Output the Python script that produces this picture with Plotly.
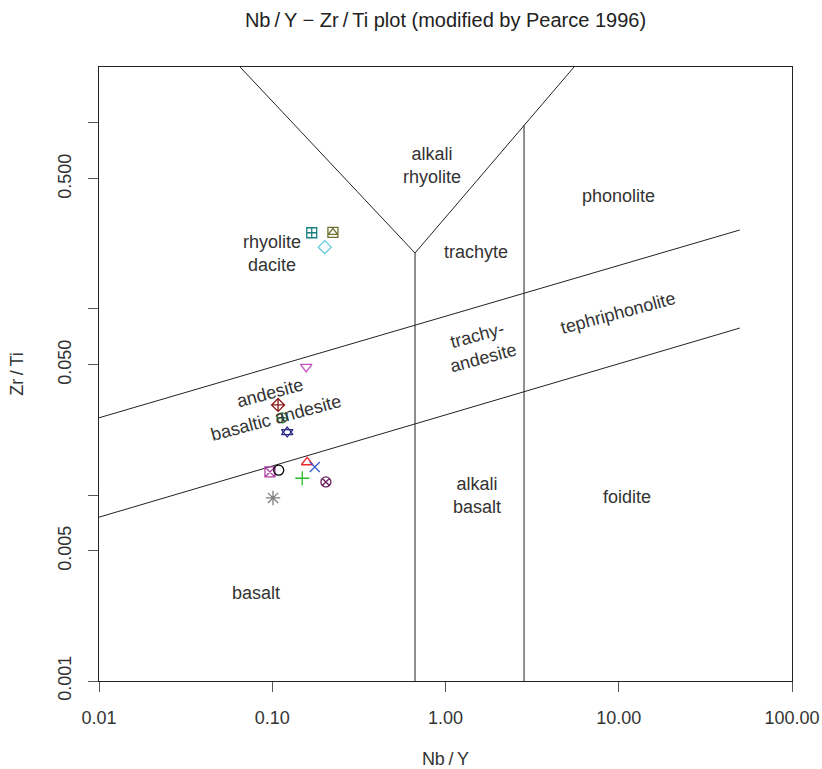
import plotly.graph_objects as go
import math

# ---- data ----
# field boundary lines (Nb/Y, Zr/Ti)
bound_v_left_x = [0.0652, 0.667]
bound_v_left_y = [2.0, 0.2]
bound_v_right_x = [0.667, 5.52]
bound_v_right_y = [0.2, 2.0]
bound_trachyte_x = [0.667, 0.667]
bound_trachyte_y = [0.2, 0.001]
bound_phono_x = [2.84, 2.84]
bound_phono_y = [0.975, 0.001]
bound_upper_x = [0.01, 50]
bound_upper_y = [0.026, 0.266]
bound_lower_x = [0.01, 50]
bound_lower_y = [0.0076, 0.079]

# samples
sample_nby = [0.169, 0.224, 0.201, 0.157, 0.108, 0.114, 0.122, 0.097, 0.109, 0.159, 0.176, 0.149, 0.204, 0.101]
sample_zrti = [0.257, 0.258, 0.215, 0.0488, 0.0305, 0.026, 0.0218, 0.0133, 0.0136, 0.0150, 0.01415, 0.0123, 0.01175, 0.00964]
sample_symbols = ["square-cross-open", "square-open", "diamond-open", "triangle-down-open",
                  "diamond-cross-open", "circle-cross-open", "triangle-up-open", "square-x-open",
                  "circle-open", "triangle-up-open", "x-thin-open", "cross-thin-open",
                  "circle-x-open", "asterisk-open"]
sample_colors = ["#1B7F7F", "#6E6E2E", "#5CC8DC", "#C050C0", "#8B1C1C", "#2E7A3A", "#2B2B85",
                 "#B043A8", "#000000", "#F0282D", "#3A5BD0", "#2CB82C", "#6B1F5E", "#7F7F7F"]
# overlay symbols (second glyph on the same sample)
overlay_idx = [1, 6]
overlay_symbols = ["triangle-up-open", "triangle-down-open"]

# field labels
labels = ["alkali<br>rhyolite", "rhyolite<br>dacite", "trachyte", "phonolite", "tephriphonolite",
          "trachy-<br>andesite", "andesite", "basaltic andesite", "alkali<br>basalt", "foidite", "basalt"]
label_x = [0.836, 0.0998, 1.50, 10.02, 9.91, 1.58, 0.0970, 0.105, 1.52, 11.2, 0.0805]
label_y = [0.594, 0.200, 0.202, 0.406, 0.0951, 0.0632, 0.0353, 0.0259, 0.00989, 0.00975, 0.00297]
label_angle = [0, 0, 0, 0, -15, -15, -15, -15, 0, 0, 0]

xtick_vals = [0.01, 0.1, 1, 10, 100]
xtick_text = ["0.01", "0.10", "1.00", "10.00", "100.00"]
ytick_vals = [0.001, 0.005, 0.01, 0.05, 0.1, 0.5, 1]
ytick_text = ["0.001", "0.005", "", "0.050", "", "0.500", ""]

TS = "\u2009"  # thin space (plotmath-like spacing around slashes)

fig = go.Figure()
line_style = dict(color="#222222", width=1)
for bx, by in [(bound_v_left_x, bound_v_left_y), (bound_v_right_x, bound_v_right_y),
               (bound_trachyte_x, bound_trachyte_y), (bound_phono_x, bound_phono_y),
               (bound_upper_x, bound_upper_y), (bound_lower_x, bound_lower_y)]:
    fig.add_trace(go.Scatter(x=bx, y=by, mode="lines", line=line_style,
                             hoverinfo="skip", showlegend=False))

for i in range(len(sample_nby)):
    sym = sample_symbols[i]
    size = 10
    if sym == "asterisk-open":
        size = 12
    fig.add_trace(go.Scatter(
        x=[sample_nby[i]], y=[sample_zrti[i]], mode="markers", showlegend=False,
        marker=dict(symbol=sym, size=size, color=sample_colors[i],
                    line=dict(color=sample_colors[i], width=1.3))))
for k, i in enumerate(overlay_idx):
    fig.add_trace(go.Scatter(
        x=[sample_nby[i]], y=[sample_zrti[i]], mode="markers", showlegend=False,
        marker=dict(symbol=overlay_symbols[k], size=8 if i == 1 else 10, color=sample_colors[i],
                    line=dict(color=sample_colors[i], width=1.3))))

for t, lx, ly, a in zip(labels, label_x, label_y, label_angle):
    fig.add_annotation(x=math.log10(lx), y=math.log10(ly), text=t, showarrow=False,
                       textangle=a, font=dict(size=18, color="#333333"))

axis_common = dict(showline=True, linecolor="#222222", linewidth=1, mirror=True,
                   ticks="outside", ticklen=10, tickcolor="#555555", showgrid=False,
                   zeroline=False, tickfont=dict(size=18, color="#333333"),
                   automargin=False, ticklabeloverflow="allow")
fig.update_xaxes(type="log", range=[-2, 2], tickvals=xtick_vals, ticktext=xtick_text,
                 ticklabelstandoff=10,
                 title=dict(text="Nb" + TS + "/" + TS + "Y", font=dict(size=18, color="#333333"),
                            standoff=26),
                 **axis_common)
fig.update_yaxes(type="log", range=[-3, math.log10(2)], tickvals=ytick_vals, ticktext=ytick_text,
                 tickangle=-90, ticklabelstandoff=10,
                 title=dict(text="Zr" + TS + "/" + TS + "Ti", font=dict(size=18, color="#333333"),
                            standoff=26),
                 **axis_common)

fig.update_layout(
    width=822, height=769,
    margin=dict(l=99, r=30, t=67, b=88),
    paper_bgcolor="white", plot_bgcolor="white",
    font=dict(family="Liberation Sans, Arial, sans-serif", color="#333333"),
    title=dict(text="Nb" + TS + "/" + TS + "Y \u2212 Zr" + TS + "/" + TS + "Ti plot (modified by Pearce 1996)",
               x=0.5, xref="paper", xanchor="center",
               y=0.974, yanchor="middle", font=dict(size=20, color="#222222")),
)

fig.write_html("out.html")
